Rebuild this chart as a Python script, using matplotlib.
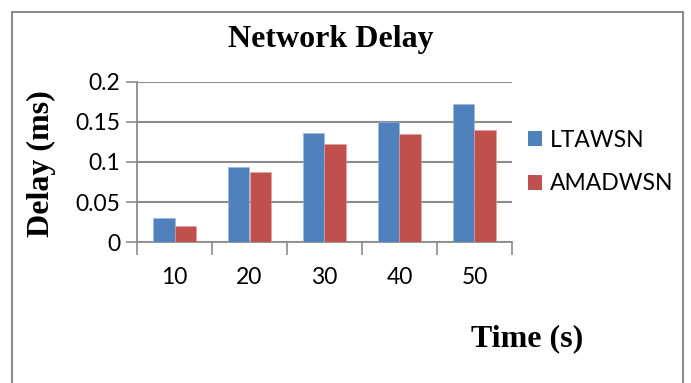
import numpy as np
import matplotlib
matplotlib.use('Agg')
import matplotlib.pyplot as plt
from matplotlib.patches import Rectangle, Patch

# Data
times = ['10', '20', '30', '40', '50']
ltawsn = [0.030, 0.094, 0.136, 0.150, 0.172]
amadwsn = [0.020, 0.088, 0.122, 0.135, 0.140]
y_ticks = [0, 0.05, 0.1, 0.15, 0.2]
y_tick_labels = ['0', '0.05', '0.1', '0.15', '0.2']

blue = '#4F81BD'
red = '#C0504D'
grid_gray = '#8C8C8C'

W, H = 691, 383
fig = plt.figure(figsize=(W / 100, H / 100), dpi=100)
ax = fig.add_axes([137 / W, 1 - 242.3 / H, (512 - 137) / W, (242.3 - 81.7) / H])

x = np.arange(len(times))
bw = 0.286
ax.bar(x - bw / 2, ltawsn, bw, color=blue, edgecolor='#9DB7DB', linewidth=0.4, zorder=3)
ax.bar(x + bw / 2, amadwsn, bw, color=red, edgecolor='#E0A3A1', linewidth=0.4, zorder=3)

ax.set_xlim(-0.5, len(times) - 0.5)
ax.set_ylim(0, 0.2)

# y axis
ax.set_yticks(y_ticks)
ax.set_yticklabels(y_tick_labels, fontfamily='Lato', fontsize=16.5)
ax.tick_params(axis='y', length=8, width=1.2, color=grid_gray, pad=4)
ax.yaxis.grid(True, color=grid_gray, linewidth=1.5, zorder=0)

# x axis: labels at centres, ticks at boundaries
ax.set_xticks(x)
ax.set_xticklabels(times, fontfamily='Lato', fontsize=16.5)
ax.set_xticks(np.arange(-0.5, len(times)), minor=True)
ax.tick_params(axis='x', which='major', length=0, pad=18)
ax.tick_params(axis='x', which='minor', length=9, width=1.2, color=grid_gray)

for side in ['top', 'right']:
    ax.spines[side].set_visible(False)
for side in ['left', 'bottom']:
    ax.spines[side].set_color(grid_gray)
    ax.spines[side].set_linewidth(1.3)

# texts
serif = 'Liberation Serif'
fig.text(331 / W, 1 - 40 / H, 'Network Delay', ha='center', va='center',
         fontfamily=serif, fontweight='bold', fontsize=23)
fig.text(41 / W, 1 - 164 / H, 'Delay (ms)', ha='center', va='center', rotation=90,
         fontfamily=serif, fontweight='bold', fontsize=23)
fig.text(527 / W, 1 - 339 / H, 'Time (s)', ha='center', va='center',
         fontfamily=serif, fontweight='bold', fontsize=23)

# legend
handles = [Patch(facecolor=blue), Patch(facecolor=red)]
fig.legend(handles, ['LTAWSN', 'AMADWSN'], loc='center left',
           bbox_to_anchor=(528 / W, 1 - 162 / H), frameon=False,
           prop={'family': 'Lato', 'size': 16.5}, handlelength=0.62, handleheight=0.62,
           handletextpad=0.35, labelspacing=1.0, borderpad=0, borderaxespad=0)

# outer border
fig.patches.append(Rectangle((12 / W, -0.1), (683 - 12) / W, 1.1 - 12 / H,
                             transform=fig.transFigure, fill=False,
                             edgecolor=grid_gray, linewidth=1.5))

fig.savefig('out.png', dpi=100)
